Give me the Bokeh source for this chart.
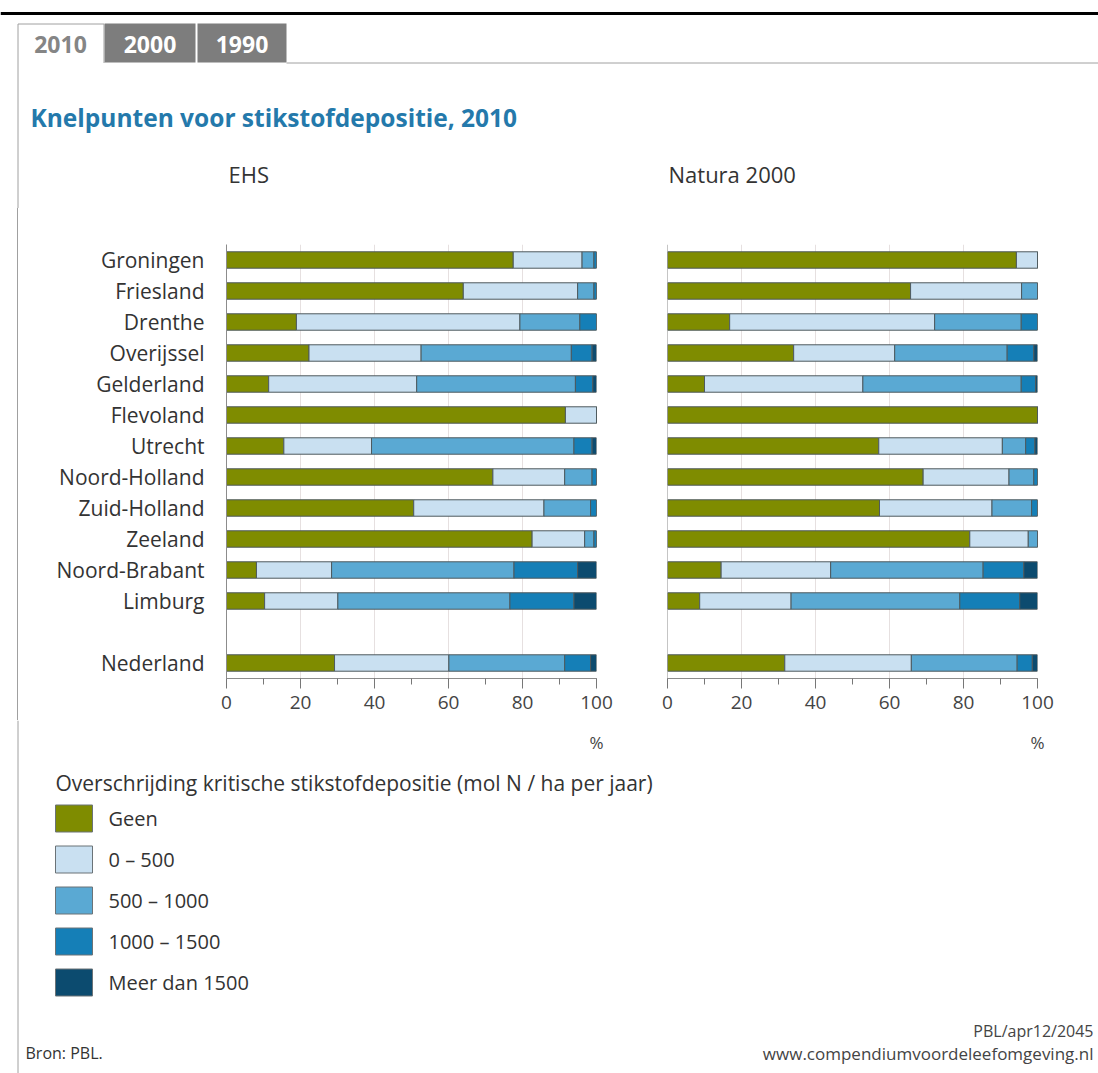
from bokeh.plotting import figure
from bokeh.models import Range1d, FactorRange, ColumnDataSource, SingleIntervalTicker, Span, Spacer
from bokeh.layouts import column, row
from bokeh.embed import file_html
from bokeh.resources import INLINE
from bokeh.core.properties import value

# ---------------- data ----------------
provinces = ["Groningen", "Friesland", "Drenthe", "Overijssel", "Gelderland", "Flevoland",
             "Utrecht", "Noord-Holland", "Zuid-Holland", "Zeeland", "Noord-Brabant", "Limburg"]
total_label = "Nederland"
series = ["Geen", "0 – 500", "500 – 1000", "1000 – 1500", "Meer dan 1500"]
colors = ["#7f8c00", "#c9e0f1", "#5aa9d3", "#157fb7", "#0c4b6f"]

# EHS (order: provinces..., Nederland)
ehs_geen      = [77.5, 64.0, 18.9, 22.3, 11.4, 91.6, 15.5, 72.0, 50.6, 82.6,  8.1, 10.3, 29.2]
ehs_0_500     = [18.6, 30.9, 60.4, 30.3, 40.0,  8.4, 23.7, 19.4, 35.2, 14.2, 20.3, 19.8, 30.9]
ehs_500_1000  = [ 3.2,  4.4, 16.2, 40.6, 42.9,  0.0, 54.7,  7.4, 12.6,  2.5, 49.3, 46.5, 31.3]
ehs_1000_1500 = [ 0.7,  0.7,  4.5,  5.6,  4.7,  0.0,  4.9,  1.2,  1.6,  0.7, 17.2, 17.3,  7.0]
ehs_meer      = [ 0.0,  0.0,  0.0,  1.2,  1.0,  0.0,  1.2,  0.0,  0.0,  0.0,  5.1,  6.1,  1.6]

# Natura 2000
n2k_geen      = [94.3, 65.7, 16.8, 34.1, 10.0, 100.0, 57.1, 69.1, 57.3, 81.7, 14.5,  8.7, 31.7]
n2k_0_500     = [ 5.7, 30.0, 55.4, 27.3, 42.8,   0.0, 33.4, 23.2, 30.4, 15.8, 29.6, 24.7, 34.2]
n2k_500_1000  = [ 0.0,  4.3, 23.4, 30.4, 42.8,   0.0,  6.3,  6.7, 10.7,  2.5, 41.2, 45.6, 28.6]
n2k_1000_1500 = [ 0.0,  0.0,  4.4,  7.2,  3.9,   0.0,  2.5,  1.0,  1.6,  0.0, 11.0, 16.2,  4.1]
n2k_meer      = [ 0.0,  0.0,  0.0,  1.0,  0.5,   0.0,  0.7,  0.0,  0.0,  0.0,  3.7,  4.8,  1.4]

x_ticks_interval = 20

FONT = "Open Sans"
TXT = "#333333"
BORDER = "#a0a0a0"
AXIS = "#8c8c8c"

cats = provinces + [total_label]
factors = [total_label, " "] + provinces[::-1]
ROW_H = 512


def bar_panel(cols, show_labels, width, left, right):
    data = {"cat": cats}
    for s, c in zip(series, cols):
        data[s] = c
    src = ColumnDataSource(data)
    p = figure(width=width, height=ROW_H, y_range=FactorRange(factors=factors),
               x_range=Range1d(0, 100), toolbar_location=None, output_backend="svg",
               min_border_left=left, min_border_right=right, min_border_top=36,
               min_border_bottom=42, outline_line_color=None,
               y_axis_location="left" if show_labels else None)
    p.xgrid.ticker = SingleIntervalTicker(interval=x_ticks_interval)
    p.xgrid.grid_line_color = "#e6e0e0"
    p.ygrid.grid_line_color = None
    p.hbar_stack(series, y="cat", height=0.53, color=colors, source=src,
                 line_color="#4e5a5e", line_width=1)
    p.xaxis.ticker = SingleIntervalTicker(interval=x_ticks_interval, num_minor_ticks=2)
    p.xaxis.axis_line_color = AXIS
    p.xaxis.major_tick_line_color = "#777777"
    p.xaxis.minor_tick_line_color = "#777777"
    p.xaxis.major_tick_out = 10
    p.xaxis.major_tick_in = 0
    p.xaxis.minor_tick_out = 6
    p.xaxis.minor_tick_in = 0
    p.xaxis.major_label_standoff = 7
    p.xaxis.major_label_text_font = FONT
    p.xaxis.major_label_text_font_size = "19px"
    p.xaxis.major_label_text_color = "#444444"
    if show_labels:
        p.yaxis.axis_line_color = AXIS
        p.yaxis.major_tick_line_color = None
        p.yaxis.minor_tick_line_color = None
        p.yaxis.major_tick_out = 0
        p.yaxis.major_tick_in = 0
        p.yaxis.major_label_standoff = 22
        p.yaxis.major_label_text_font = FONT
        p.yaxis.major_label_text_color = TXT
        p.yaxis.major_label_text_font_size = "21px"
    else:
        p.add_layout(Span(location=0, dimension="height", line_color=AXIS, line_width=1))
    return p


ehs = bar_panel([ehs_geen, ehs_0_500, ehs_500_1000, ehs_1000_1500, ehs_meer], True, 598, 208, 20)
n2k = bar_panel([n2k_geen, n2k_0_500, n2k_500_1000, n2k_1000_1500, n2k_meer], False, 466, 51, 45)

# 1px strip carrying the left border of the framed box
strip = Spacer(width=1, height=ROW_H, styles={"background-color": BORDER})

W = 1098


def canvas(h):
    c = figure(width=W, height=h, x_range=Range1d(0, W), y_range=Range1d(h, 0),
               toolbar_location=None, output_backend="svg", min_border=0,
               outline_line_color=None, x_axis_location=None, y_axis_location=None)
    c.grid.visible = False
    return c


# ---------------- header ----------------
HH = 208
hdr = canvas(HH)
hdr.segment(x0=[0], y0=[13], x1=[W], y1=[13], line_color="black", line_width=3)
tab_names = ["2010", "2000", "1990"]
tab_l = [17, 104, 197]
tab_r = [103, 195, 286]
hdr.quad(left=tab_l[1:], right=tab_r[1:], top=[23, 23], bottom=[62, 62],
         fill_color="#7d7d7d", line_color=None)
hdr.segment(x0=[17.5, 17.5, 103.5, 286], y0=[HH, 23.5, 23.5, 62.5],
            x1=[17.5, 103.5, 103.5, W], y1=[23.5, 23.5, 62.5, 62.5],
            line_color=BORDER, line_width=1)
hdr.text(x=[(a + b) / 2 for a, b in zip(tab_l, tab_r)], y=[43.5] * 3, text=tab_names,
         text_font=value(FONT), text_font_size="23px", text_font_style="bold",
         text_color=["#858585", "white", "white"], text_align="center", text_baseline="middle")
hdr.text(x=[30], y=[117], text=["Knelpunten voor stikstofdepositie, 2010"],
         text_font=value(FONT), text_font_size="24.5px", text_font_style="bold",
         text_color="#2479ab", text_baseline="middle")
hdr.text(x=[228, 668], y=[173, 173], text=["EHS", "Natura 2000"],
         text_font=value(FONT), text_font_size="22px", text_color=TXT, text_baseline="middle")

# ---------------- footer ----------------
FH = 353
ftr = canvas(FH)
ftr.segment(x0=[17.5], y0=[0], x1=[17.5], y1=[FH], line_color=BORDER, line_width=1)
ftr.text(x=[596, 1037], y=[22, 22], text=["%", "%"], text_font=value(FONT),
         text_font_size="17px", text_color="#444444", text_align="center", text_baseline="middle")
ftr.text(x=[55], y=[62], text=["Overschrijding kritische stikstofdepositie (mol N / ha per jaar)"],
         text_font=value(FONT), text_font_size="21px", text_color=TXT, text_baseline="middle")
leg_y = [98 + 41 * i for i in range(len(series))]
ftr.rect(x=[73.5] * len(series), y=leg_y, width=37, height=27, fill_color=colors,
         line_color="#6b7377", line_width=1)
ftr.text(x=[108] * len(series), y=leg_y, text=series, text_font=value(FONT),
         text_font_size="20px", text_color=TXT, text_baseline="middle")
ftr.text(x=[25], y=[332], text=["Bron: PBL."], text_font=value(FONT),
         text_font_size="16px", text_color=TXT, text_baseline="middle")
ftr.text(x=[1093], y=[310], text=["PBL/apr12/2045"],
         text_font=value(FONT), text_font_size="16px", text_color="#444444",
         text_align="right", text_baseline="middle")
ftr.text(x=[1093], y=[333], text=["www.compendiumvoordeleefomgeving.nl"],
         text_font=value(FONT), text_font_size="17px", text_color="#444444",
         text_align="right", text_baseline="middle")

layout = column(hdr, row(Spacer(width=17, height=ROW_H), strip, ehs, n2k, spacing=0), ftr, spacing=0)
open("out.html", "w").write(file_html(layout, INLINE))
